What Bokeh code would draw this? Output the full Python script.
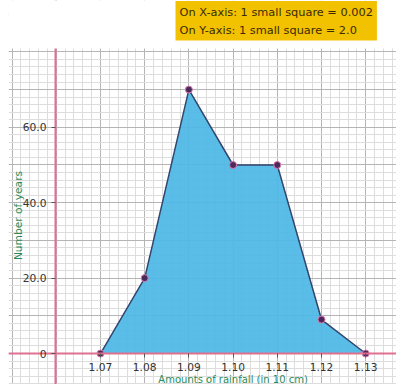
from bokeh.plotting import figure
from bokeh.models import LinearAxis, FixedTicker, Range1d, Label, ColumnDataSource, BoxAnnotation
from bokeh.embed import file_html
from bokeh.resources import INLINE

# data
rainfall = [1.07, 1.08, 1.09, 1.10, 1.11, 1.12, 1.13]
x_tick_labels = ["1.07", "1.08", "1.09", "1.10", "1.11", "1.12", "1.13"]
years = [0, 20, 70, 50, 50, 9, 0]
y_ticks = [0, 20, 40, 60]
y_tick_labels = ["0", "20.0", "40.0", "60.0"]
scale_text = "On X-axis: 1 small square = 0.002\nOn Y-axis: 1 small square = 2.0"

p = figure(width=396, height=384, output_backend="svg", toolbar_location=None,
           x_range=Range1d(1.04919, 1.13697), y_range=Range1d(-8.22, 93.63),
           x_axis_location=None, y_axis_location=None,
           min_border_left=8, min_border_right=0, min_border_bottom=0, min_border_top=0)
p.outline_line_color = None
p.background_fill_color = "white"

# graph-paper grid
p.xgrid.ticker = FixedTicker(ticks=[round(1.04 + 0.01 * i, 3) for i in range(11)],
                             minor_ticks=[round(1.04 + 0.002 * i, 4) for i in range(51)])
p.ygrid.ticker = FixedTicker(ticks=[-20 + 10 * i for i in range(13)],
                             minor_ticks=[-20 + 2 * i for i in range(60)])
for g in (p.xgrid, p.ygrid):
    g.grid_line_color = "#b5b5b5"
    g.grid_line_width = 1
    g.minor_grid_line_color = "#dddddd"
    g.minor_grid_line_width = 1

# blank strip above the graph paper
p.add_layout(BoxAnnotation(bottom=80.9, fill_color="white", fill_alpha=1, line_color=None))

src = ColumnDataSource(dict(x=rainfall, y=years))
p.varea(x="x", y1=0, y2="y", source=src, fill_color="#4cb8e6", fill_alpha=0.93)
p.line(x="x", y="y", source=src, line_color="#34466e", line_width=1.5)
p.scatter(x="x", y="y", source=src, size=7, fill_color="#4a2a5a", line_color="#e07ab0", line_width=1)

# axes at their data positions
xax = LinearAxis(ticker=FixedTicker(ticks=rainfall), fixed_location=0,
                 axis_line_color="#e07090", axis_line_width=2,
                 major_tick_line_color="#555555", major_tick_in=0, major_tick_out=4,
                 minor_tick_line_color=None,
                 major_label_overrides={r: l for r, l in zip(rainfall, x_tick_labels)},
                 major_label_text_font="DejaVu Sans", major_label_text_font_size="8pt",
                 major_label_text_color="#333333")
p.add_layout(xax, "below")
yax = LinearAxis(ticker=FixedTicker(ticks=y_ticks), fixed_location=1.05982,
                 axis_line_color="#e07090", axis_line_width=2,
                 major_tick_line_color="#555555", major_tick_in=0, major_tick_out=4,
                 minor_tick_line_color=None,
                 major_label_overrides={t: l for t, l in zip(y_ticks, y_tick_labels)},
                 major_label_text_font="DejaVu Sans", major_label_text_font_size="8pt",
                 major_label_text_color="#333333")
p.add_layout(yax, "left")

p.add_layout(Label(x=1.1, y=-6.9, text="Amounts of rainfall (in 10 cm)", text_align="center",
                   text_baseline="middle",
                   text_font="DejaVu Sans", text_font_size="7.5pt", text_color="#2e8b57"))
p.add_layout(Label(x=1.05145, y=36.6, text="Number of years", angle=1.5708, text_align="center",
                   text_baseline="middle",
                   text_font="DejaVu Sans", text_font_size="8pt", text_color="#2e8b57"))

p.add_layout(Label(x=167, y=344, x_units="screen", y_units="screen", text=scale_text,
                   text_font="DejaVu Sans", text_font_size="8.5pt", text_color="#3a2a00",
                   background_fill_color="#f2c200", text_line_height=1.25, padding=4))

open("out.html", "w").write(file_html(p, INLINE))
